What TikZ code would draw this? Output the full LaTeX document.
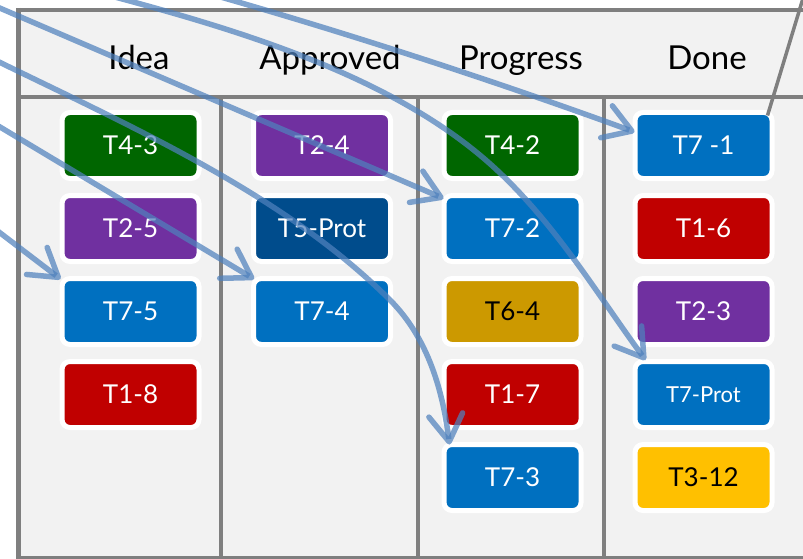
\documentclass[tikz,border=0pt]{standalone}
\usepackage{fontspec}
\setmainfont{Lato}
\usetikzlibrary{arrows.meta}
\definecolor{cgreen}{RGB}{0,102,0}
\definecolor{cpurple}{RGB}{112,48,160}
\definecolor{cblue}{RGB}{0,112,192}
\definecolor{cdblue}{RGB}{0,76,140}
\definecolor{cred}{RGB}{192,0,0}
\definecolor{cgold}{RGB}{204,153,0}
\definecolor{cyellow}{RGB}{255,192,0}
\definecolor{boardfill}{RGB}{242,242,242}
\definecolor{framegray}{RGB}{127,127,127}
\definecolor{arrowblue}{RGB}{79,129,189}
\begin{document}
\begin{tikzpicture}[x=1pt,y=-1pt,
  card/.style={draw=white, line width=5pt, rounded corners=8pt,
    minimum width=137pt, minimum height=66pt, inner sep=0pt,
    font=\fontsize{26}{26}\selectfont, text=white},
  smallcard/.style={card, font=\fontsize{22}{22}\selectfont},
  hdr/.style={font=\fontsize{33}{33}\selectfont, anchor=base, text=black},
  frameline/.style={draw=framegray, line width=3.5pt},
  flow/.style={draw=arrowblue, draw opacity=0.72, line width=5.5pt,
    -{Straight Barb[length=27pt,width=34pt,round]}}]
\useasboundingbox (0,0) rectangle (803,559);
\clip (0,0) rectangle (803,559);
% board
\fill[boardfill] (18,10) rectangle (806,558);
\draw[frameline] (18,10) -- (806,10);
\draw[frameline] (18,97) -- (806,97);
\draw[frameline] (18,558) -- (806,558);
\draw[framegray, line width=5pt] (18,8) -- (18,560);
\draw[frameline] (221,97) -- (221,560);
\draw[frameline] (418,97) -- (418,560);
\draw[frameline] (604,97) -- (604,560);
% headers
\node[hdr] (hIdea) at (139,70) {Idea};
\node[hdr] (hAppr) at (330,70) {Approved};
\node[hdr] (hProg) at (521,70) {Progress};
\node[hdr] (hDone) at (707,70) {Done};
% Idea
\node[card, fill=cgreen]  (i1) at (130.5,145.5) {T4-3};
\node[card, fill=cpurple] (i2) at (130.5,228.5) {T2-5};
\node[card, fill=cblue]   (i3) at (130.5,311.5) {T7-5};
\node[card, fill=cred]    (i4) at (130.5,394.5) {T1-8};
% Approved
\node[card, fill=cpurple] (a1) at (322,145.5) {T2-4};
\node[card, fill=cdblue]  (a2) at (322,228.5) {T5-Prot};
\node[card, fill=cblue]   (a3) at (322,311.5) {T7-4};
% Progress
\node[card, fill=cgreen]  (p1) at (512.5,145.5) {T4-2};
\node[card, fill=cblue]   (p2) at (512.5,228.5) {T7-2};
\node[card, fill=cgold, text=black] (p3) at (512.5,311.5) {T6-4};
\node[card, fill=cred]    (p4) at (512.5,394.5) {T1-7};
\node[card, fill=cblue]   (p5) at (512.5,477.5) {T7-3};
% Done
\node[card, fill=cblue]   (d1) at (703.5,145.5) {T7 -1};
\node[card, fill=cred]    (d2) at (703.5,228.5) {T1-6};
\node[card, fill=cpurple] (d3) at (703.5,311.5) {T2-3};
\node[smallcard, fill=cblue] (d4) at (703.5,394.5) {T7-Prot};
\node[card, fill=cyellow, text=black] (d5) at (703.5,477.5) {T3-12};
% outgoing gray connector
\coordinate (gOut) at (804,-5);
\draw[frameline] ([shift={(-7,5.5)}]d1.north east) -- (gOut);
% arrows
\coordinate (sA) at (-5,229);
\coordinate (sB) at (-5,124);
\coordinate (sC) at (-5,6);
\coordinate (sD) at (196,-10);
\coordinate (sE) at (100,-7);
\coordinate (sF) at (-5,60);
\draw[flow] (sA) -- ([shift={(1,3)}]i3.north west);
\draw[flow] (sB) -- ([shift={(3,3)}]a3.north west);
\draw[flow] (sC) -- ([shift={(2,5.5)}]p2.north west);
\draw[flow] (sD) .. controls (340,30.5) and (495,81) .. ([shift={(2,-13.5)}]d1.west);
\draw[flow] (sE) .. controls (235,29) and (398.5,76) .. (500,173)
  .. controls (558,228) and (600,298) .. ([shift={(13,1)}]d4.north west);
\draw[flow] (sF) .. controls (130,126) and (284,194) .. (390,300)
  .. controls (429,339) and (443,393) .. ([shift={(8,2.5)}]p5.north west);
\end{tikzpicture}
\end{document}
